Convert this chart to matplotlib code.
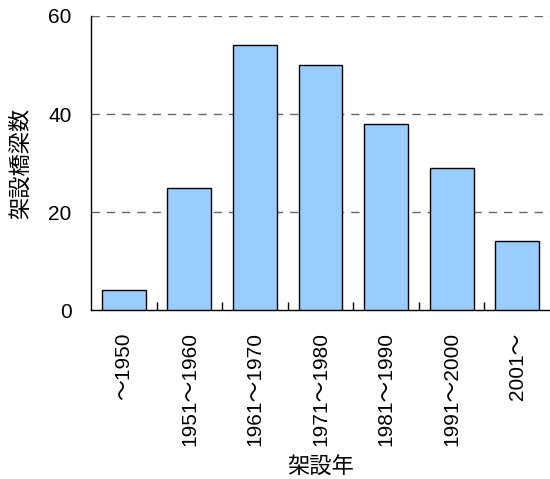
import numpy as np
import matplotlib.pyplot as plt
from matplotlib.ticker import FixedLocator

plt.rcParams['font.family'] = ['Liberation Sans', 'Noto Sans CJK JP', 'DejaVu Sans']

# 架設年ごとの橋梁数
periods = ['～1950', '1951～1960', '1961～1970', '1971～1980',
           '1981～1990', '1991～2000', '2001～']
counts = [4, 25, 54, 50, 38, 29, 14]
y_ticks = [0, 20, 40, 60]

fig = plt.figure(figsize=(5.5, 4.79), dpi=100)
ax = fig.add_axes([0.1655, 0.3528, 0.8345, 0.6138])

x = np.arange(len(periods))
ax.bar(x, counts, width=0.67, color='#99CCFF', edgecolor='black',
       linewidth=1.0, zorder=3)

ax.set_xlim(-0.5, len(periods) - 0.5)
ax.set_ylim(0, 60)

# 目盛り
ax.set_yticks(y_ticks)
ax.tick_params(axis='y', length=0, pad=14, labelsize=15)
ax.set_xticks(x)
ax.set_xticklabels(periods, rotation=90, fontsize=15, va='top')
ax.tick_params(axis='x', which='major', length=0, pad=16)
ax.xaxis.set_minor_locator(FixedLocator(x[:-1] + 0.5))
ax.tick_params(axis='x', which='minor', direction='in', length=6,
               width=1, color='black')

# 補助線
for v in y_ticks[1:]:
    ax.axhline(v, color='#666666', linestyle=(0, (6, 5)), linewidth=1,
               zorder=1)

for side in ['top', 'right']:
    ax.spines[side].set_visible(False)
ax.spines['left'].set_linewidth(1)
ax.spines['bottom'].set_linewidth(1)

ax.set_ylabel('架設橋梁数', fontsize=16, labelpad=12)
ax.set_xlabel('架設年', fontsize=16, labelpad=8)

plt.savefig('out.png', dpi=100)
